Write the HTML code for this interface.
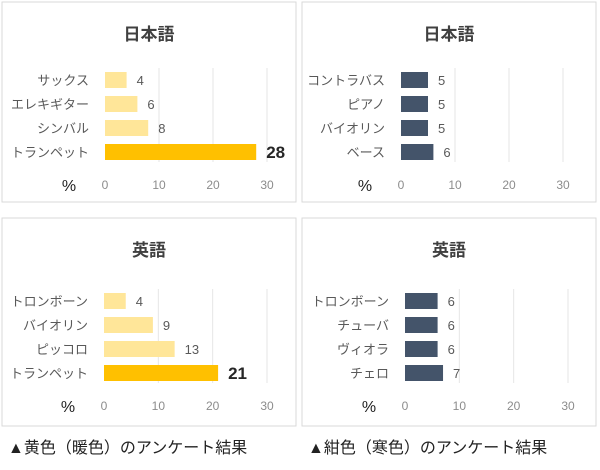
<!DOCTYPE html>
<html><head><meta charset="utf-8"><style>
body{margin:0;background:#fff;width:600px;height:470px;overflow:hidden}
svg{display:block;font-family:"Liberation Sans","Noto Sans CJK JP",sans-serif}
</style></head><body>
<svg id="c" width="600" height="470">
<text x="8" y="453" font-size="16" fill="#222">▲黄色（暖色）のアンケート結果</text>
<text x="308" y="453" font-size="16" fill="#222">▲紺色（寒色）のアンケート結果</text>
</svg>
<script>
const ticks=[0,10,20,30];
const p1Cats=["サックス","エレキギター","シンバル","トランペット"];
const p1Vals=[4,6,8,28];
const p2Cats=["コントラバス","ピアノ","バイオリン","ベース"];
const p2Vals=[5,5,5,6];
const p3Cats=["トロンボーン","バイオリン","ピッコロ","トランペット"];
const p3Vals=[4,9,13,21];
const p4Cats=["トロンボーン","チューバ","ヴィオラ","チェロ"];
const p4Vals=[6,6,6,7];
const NS="http://www.w3.org/2000/svg";
const svg=document.getElementById('c');
function mk(t,a,parent){const e=document.createElementNS(NS,t);for(const k in a)e.setAttribute(k,a[k]);(parent||svg).appendChild(e);return e;}
function panel(id,bx,by,bw,bh,title,x0,x30,rowY,cats,vals,warm){
  const g=mk('g',{});
  
  
  const b=mk('rect',{x:bx,y:by,width:bw,height:bh,fill:'#fff',stroke:'#d9d9d9'},g);
  
  
  const t=mk('text',{x:bx+bw/2,y:by+38,'font-size':17,'font-weight':'bold','text-anchor':'middle',fill:'#404040'},g);
  t.textContent=title;
  
  
  const sx=v=>x0+(x30-x0)*v/30;
  const step=24;
  const gTop=rowY-12,gBot=rowY+3*step+10;
  ticks.forEach(v=>{
    if(v>0){const l=mk('line',{x1:sx(v),x2:sx(v),y1:gTop,y2:gBot,stroke:'#e6e6e6'},g);
      
      }
    const tl=mk('text',{x:sx(v),y:gBot+27,'font-size':12,'text-anchor':'middle',fill:'#8c8c8c'},g);
    tl.textContent=v;
    
    
  });
  const pc=mk('text',{x:x0-36,y:gBot+29,'font-size':16,'text-anchor':'middle',fill:'#222'},g);
  pc.textContent='%';
  
  
  cats.forEach((c,i)=>{
    const y=rowY+i*step;
    const big=warm&&i===cats.length-1;
    const col=warm?(big?'#FFC000':'#FFE699'):'#44546A';
    const r=mk('rect',{x:x0,y:y-8,width:sx(vals[i])-x0,height:16,fill:col},g);
    
    
    const lab=mk('text',{x:x0-16,y:y+5,'font-size':13,'text-anchor':'end',fill:'#595959'},g);
    lab.textContent=c;
    
    
    const vl=mk('text',{x:sx(vals[i])+10,y:y+(big?6:5),'font-size':big?17:13,'font-weight':big?'bold':'normal',fill:big?'#262626':'#595959'},g);
    vl.textContent=vals[i];
    
    
  });
}
panel('panel-warm-japanese',2,2,294,200,'日本語',105,267,80,p1Cats,p1Vals,true);
panel('panel-cool-japanese',302,2,294,200,'日本語',401,563,80,p2Cats,p2Vals,false);
panel('panel-warm-english',2,218,294,208,'英語',104,267,301,p3Cats,p3Vals,true);
panel('panel-cool-english',302,218,294,208,'英語',405,568,301,p4Cats,p4Vals,false);
</script>
</body></html>
